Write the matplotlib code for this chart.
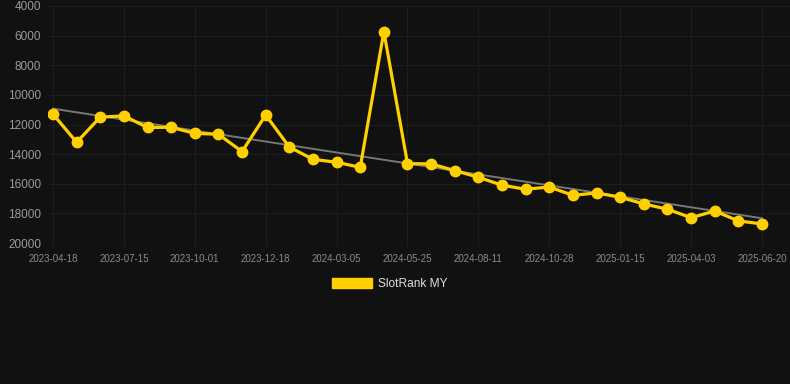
import numpy as np
import matplotlib
matplotlib.use("Agg")
import matplotlib.pyplot as plt
from matplotlib.patches import Patch

plt.rcParams['font.family'] = ['Liberation Sans', 'DejaVu Sans']

# ranks, one point per step
ranks = [11300, 13200, 11500, 11420, 12200, 12190, 12600, 12660, 13830, 11360,
         13520, 14350, 14550, 14890, 5730, 14640, 14660, 15110, 15560, 16100,
         16370, 16220, 16780, 16620, 16910, 17360, 17720, 18290, 17840, 18510,
         18710]
tick_labels = ['2023-04-18', '2023-07-15', '2023-10-01', '2023-12-18',
               '2024-03-05', '2024-05-25', '2024-08-11', '2024-10-28',
               '2025-01-15', '2025-04-03', '2025-06-20']
tick_every = 3
trend_ends = [10930, 18330]
series_name = 'SlotRank MY'

bg = '#111111'
gold = '#FFD000'

fig = plt.figure(figsize=(7.9, 3.84), dpi=100, facecolor=bg)
ax = fig.add_axes([48 / 790, 1 - 243 / 384, 1 - 48 / 790, 237 / 384])
ax.set_facecolor(bg)

x = np.arange(len(ranks))
ax.plot([x[0], x[-1]], trend_ends, color='#777777', lw=1.4, zorder=2)
ax.plot(x, ranks, color=gold, lw=2.3, marker='o', ms=7.5,
        solid_joinstyle='miter', zorder=3)

ax.set_ylim(20000, 4000)
ax.set_yticks(np.arange(4000, 20001, 2000))
ax.set_xlim(-5 / 23.63, len(ranks) - 1 + 28 / 23.63)
ax.set_xticks(x[::tick_every])
ax.set_xticklabels(tick_labels)

ax.grid(True, color='#1d1d1d', lw=0.8)
ax.axhline(20000, color='#272727', lw=0.8, zorder=1)
ax.set_axisbelow(True)
for s in ax.spines.values():
    s.set_visible(False)
ax.tick_params(axis='y', length=0, pad=5, labelsize=8.5, labelcolor='#9a9a9a')
ax.tick_params(axis='x', length=3, color='#1d1d1d', pad=5, labelsize=7,
               labelcolor='#8a8a8a')

fig.legend(handles=[Patch(color=gold, label=series_name)],
           loc='center', bbox_to_anchor=(390 / 790, 1 - 284 / 384),
           frameon=False, fontsize=8.6, labelcolor='#dddddd',
           handlelength=3.35, handleheight=1.0, handletextpad=0.5)

fig.savefig('out.png', dpi=100, facecolor=bg)
